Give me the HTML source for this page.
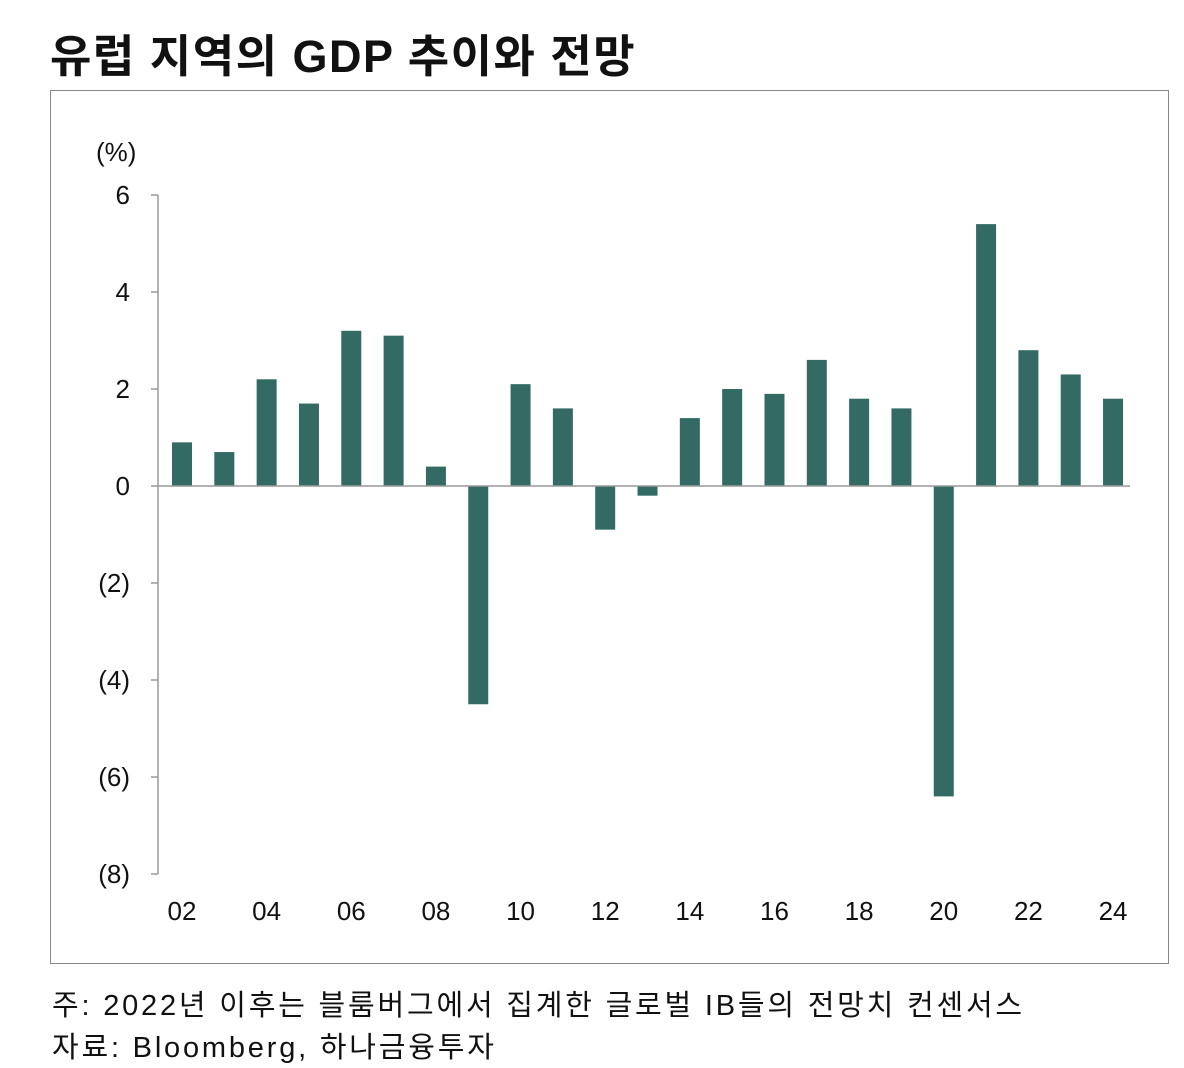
<!DOCTYPE html>
<html><head><meta charset="utf-8">
<style>
body{margin:0;background:#fff;width:1184px;height:1068px;overflow:hidden;font-family:"Liberation Sans","Noto Sans CJK KR",sans-serif;}
#title{position:absolute;left:50px;top:20px;font-size:45px;font-weight:bold;color:#111;letter-spacing:1.5px;}
#frame{position:absolute;left:50px;top:90px;width:1119px;height:874px;border:1px solid #888;box-sizing:border-box;}
.note{position:absolute;left:52px;font-size:29px;color:#111;letter-spacing:2.8px;}
svg{position:absolute;left:0;top:0;}
</style></head><body>
<div id="title">유럽 지역의 GDP 추이와 전망</div>
<div id="frame"></div>
<svg id="chart" width="1184" height="1068"></svg>
<div class="note" style="top:982px">주: 2022년 이후는 블룸버그에서 집계한 글로벌 IB들의 전망치 컨센서스</div>
<div class="note" style="top:1024px">자료: Bloomberg, 하나금융투자</div>
<script>
const years=["02","03","04","05","06","07","08","09","10","11","12","13","14","15","16","17","18","19","20","21","22","23","24"];
const values=[0.9,0.7,2.2,1.7,3.2,3.1,0.4,-4.5,2.1,1.6,-0.9,-0.2,1.4,2.0,1.9,2.6,1.8,1.6,-6.4,5.4,2.8,2.3,1.8];
const yTicks=[6,4,2,0,-2,-4,-6,-8];
const yTickLabels=["6","4","2","0","(2)","(4)","(6)","(8)"];
const NS="http://www.w3.org/2000/svg";
const svg=document.getElementById('chart');
const y=v=>486-v*48.5;
const x=i=>182+i*42.32;
function mk(t,a){const e=document.createElementNS(NS,t);for(const k in a)e.setAttribute(k,a[k]);svg.appendChild(e);return e;}
let ax=mk('line',{x1:158,y1:y(6),x2:158,y2:y(-8),stroke:'#999','stroke-width':1.5});


yTicks.forEach((v,i)=>{
  const tk=mk('line',{x1:151,y1:y(v),x2:158,y2:y(v),stroke:'#999','stroke-width':1.5});
  
  
  const t=mk('text',{x:130,y:y(v)+9,'text-anchor':'end','font-size':26,fill:'#111'});
  t.textContent=yTickLabels[i];
  
  
});
const u=mk('text',{x:96,y:161,'font-size':26,fill:'#111'});u.textContent='(%)';


values.forEach((v,i)=>{
  const r=mk('rect',{x:x(i)-10,y:Math.min(y(v),y(0)),width:20,height:Math.abs(y(v)-y(0)),fill:'#336b64'});
  
  
});
const xa=mk('line',{x1:158,y1:y(0),x2:1130,y2:y(0),stroke:'#999','stroke-width':1.5});


years.forEach((yr,i)=>{
  if(i%2)return;
  const t=mk('text',{x:x(i),y:920,'text-anchor':'middle','font-size':26,fill:'#111'});
  t.textContent=yr;
  
  
});
</script>
</body></html>
